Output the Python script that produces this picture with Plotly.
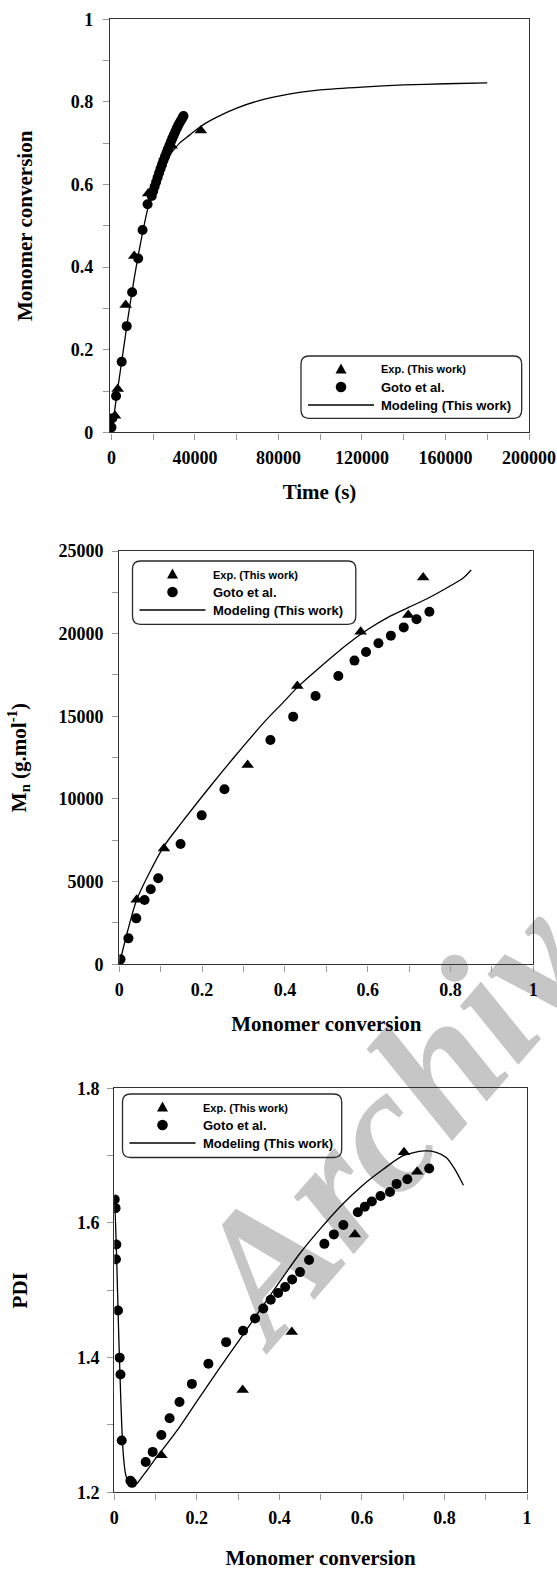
import plotly.graph_objects as go

W, H = 557, 1573

# ---------------- Panel 1: conversion vs time ----------------
p1_exp_time = [1700, 3000, 6800, 10900, 17600, 28800, 42800]
p1_exp_conv = [0.040, 0.105, 0.308, 0.427, 0.578, 0.694, 0.731]

p1_goto_time = [0, 400, 2200, 4900, 7300, 9900, 12800, 14900, 17300,
                19300, 20000, 20700, 21400, 22100, 22800, 23500, 24200, 24900,
                25600, 26300, 27000, 27700, 28400, 29100, 29800, 30500, 31200,
                31900, 32600, 33300, 34000, 34500]
p1_goto_conv = [0.012, 0.034, 0.088, 0.171, 0.257, 0.339, 0.421, 0.490, 0.552,
                0.572, 0.584, 0.595, 0.606, 0.617, 0.628, 0.638, 0.648, 0.658,
                0.667, 0.676, 0.685, 0.694, 0.703, 0.711, 0.719, 0.727, 0.735,
                0.742, 0.749, 0.755, 0.761, 0.766]

p1_model_time = [0, 2000, 4000, 6000, 8000, 10000, 12000, 14000, 16000, 18000,
                 20000, 22000, 24000, 26000, 28000, 30000, 33000, 36000, 40000,
                 45000, 50000, 60000, 70000, 80000, 90000, 100000, 120000,
                 140000, 160000, 180000]
p1_model_conv = [0.0, 0.07, 0.14, 0.21, 0.28, 0.345, 0.405, 0.46, 0.51, 0.555,
                 0.59, 0.618, 0.64, 0.658, 0.672, 0.685, 0.702, 0.714, 0.73,
                 0.748, 0.762, 0.785, 0.802, 0.814, 0.823, 0.829, 0.836,
                 0.841, 0.844, 0.846]

# ---------------- Panel 2: Mn vs conversion ----------------
p2_exp_x = [0.042, 0.108, 0.310, 0.430, 0.583, 0.698, 0.734]
p2_exp_mn = [3900, 7000, 12050, 16830, 20120, 21130, 23400]

p2_goto_x = [0.003, 0.022, 0.041, 0.061, 0.076, 0.094, 0.148, 0.199, 0.254,
             0.365, 0.420, 0.474, 0.529, 0.568, 0.596, 0.626, 0.656, 0.687,
             0.718, 0.749]
p2_goto_mn = [300, 1570, 2780, 3890, 4540, 5200, 7280, 9010, 10590,
              13570, 14980, 16230, 17440, 18370, 18890, 19420, 19880, 20380,
              20870, 21330]

p2_model_x = [0.0, 0.02, 0.042, 0.07, 0.108, 0.15, 0.2, 0.25, 0.3, 0.35, 0.4,
              0.43, 0.5, 0.55, 0.6, 0.65, 0.7, 0.75, 0.8, 0.83, 0.85]
p2_model_mn = [0, 2000, 3900, 5400, 7150, 8550, 10150, 11700, 13200, 14650,
               15950, 16750, 18300, 19350, 20250, 21000, 21600, 22200, 22900,
               23350, 23850]

# ---------------- Panel 3: PDI vs conversion ----------------
p3_exp_x = [0.114, 0.311, 0.430, 0.583, 0.702, 0.734]
p3_exp_pdi = [1.255, 1.352, 1.438, 1.583, 1.705, 1.676]

p3_goto_x = [0.001, 0.003, 0.005, 0.004, 0.009, 0.013, 0.015, 0.018, 0.039,
             0.043, 0.076, 0.093, 0.114, 0.134, 0.158, 0.188, 0.228, 0.271,
             0.312, 0.341, 0.361, 0.379, 0.397, 0.414, 0.431, 0.450, 0.472,
             0.509, 0.532, 0.555, 0.590, 0.607, 0.624, 0.645, 0.668, 0.684,
             0.710, 0.763]
p3_goto_pdi = [1.635, 1.622, 1.568, 1.546, 1.470, 1.400, 1.375, 1.277, 1.217,
               1.214, 1.245, 1.260, 1.285, 1.310, 1.334, 1.361, 1.391, 1.423,
               1.440, 1.458, 1.473, 1.486, 1.496, 1.505, 1.516, 1.527, 1.545,
               1.569, 1.583, 1.597, 1.616, 1.624, 1.632, 1.640, 1.646, 1.658,
               1.665, 1.681]

p3_model_x = [0.0, 0.003, 0.006, 0.010, 0.014, 0.018, 0.022, 0.027, 0.035,
              0.045, 0.055, 0.07, 0.1, 0.15, 0.2, 0.25, 0.305, 0.35, 0.4,
              0.45, 0.5, 0.55, 0.6, 0.65, 0.7, 0.75, 0.78, 0.805, 0.825, 0.846]
p3_model_pdi = [1.64, 1.60, 1.54, 1.45, 1.37, 1.30, 1.255, 1.228, 1.213,
                1.209, 1.213, 1.225, 1.25, 1.29, 1.335, 1.38, 1.428, 1.468,
                1.512, 1.555, 1.592, 1.626, 1.655, 1.679, 1.700, 1.707, 1.705,
                1.697, 1.68, 1.656]

legend_labels = ["Exp. (This work)", "Goto et al.", "Modeling (This work)"]
x_title_time = "Time (s)"
x_title_conv = "Monomer conversion"
y_titles = ["Monomer conversion", "M<sub>n</sub> (g.mol<sup>-1</sup>)", "PDI"]

# ---------------- helpers ----------------
def px(x):
    return x / W

def py(y):
    return 1 - y / H

BLACK = "black"
AX_COL = "#333333"
TICK_COL = "#9a9a9a"
SERIF = "Liberation Serif"
SANS = "Liberation Sans"

fig = go.Figure()

panels = [
    (p1_exp_time, p1_exp_conv, p1_goto_time, p1_goto_conv, p1_model_time, p1_model_conv, "x", "y"),
    (p2_exp_x, p2_exp_mn, p2_goto_x, p2_goto_mn, p2_model_x, p2_model_mn, "x2", "y2"),
    (p3_exp_x, p3_exp_pdi, p3_goto_x, p3_goto_pdi, p3_model_x, p3_model_pdi, "x3", "y3"),
]
for ex, ey, gx, gy, mx, my, xa, ya in panels:
    fig.add_trace(go.Scatter(x=mx, y=my, mode="lines", xaxis=xa, yaxis=ya,
                             line=dict(color=BLACK, width=1.3, shape="spline", smoothing=0.8),
                             showlegend=False, name=legend_labels[2]))
    fig.add_trace(go.Scatter(x=gx, y=gy, mode="markers", xaxis=xa, yaxis=ya,
                             marker=dict(symbol="circle", size=10, color=BLACK),
                             showlegend=False, name=legend_labels[1]))
    fig.add_trace(go.Scatter(x=ex, y=ey, mode="markers", xaxis=xa, yaxis=ya,
                             marker=dict(symbol="triangle-up", size=11, color=BLACK),
                             showlegend=False, name=legend_labels[0]))

tickfont = dict(family=SERIF, size=18, color=BLACK, weight="bold")
titlefont = dict(family=SERIF, size=21, color=BLACK, weight="bold")

def axis(domain, rng, dtick, minor_dtick, anchor, title, standoff, lbl_standoff, fmt=None):
    d = dict(domain=domain, range=rng, dtick=dtick, tick0=0, anchor=anchor,
             automargin=False,
             showline=True, linecolor=AX_COL, linewidth=1.4, mirror=True,
             ticks="outside", ticklen=6, tickwidth=1, tickcolor=TICK_COL,
             minor=dict(ticks="outside", ticklen=6, tickwidth=1, tickcolor=TICK_COL,
                        dtick=minor_dtick, tick0=0),
             showgrid=False, zeroline=False, tickfont=tickfont,
             ticklabelstandoff=lbl_standoff,
             title=dict(text=title, font=titlefont, standoff=standoff))
    if fmt:
        d["tickformat"] = fmt
    return d

# panel pixel boxes (left, right, top, bottom)
B1 = (110, 529, 19.3, 432.3)
B2 = (119.3, 533.3, 551, 964.3)
B3 = (114.3, 527, 1088.3, 1492.3)

def dom_x(b):
    return [px(b[0]), px(b[1])]

def dom_y(b):
    return [py(b[3]), py(b[2])]

fig.update_layout(
    xaxis=axis(dom_x(B1), [-700, 200000], 40000, 20000, "y", x_title_time, 17, 3, "d"),
    yaxis=axis(dom_y(B1), [0, 1], 0.2, 0.1, "x", y_titles[0], 32, 6),
    xaxis2=axis(dom_x(B2), [0, 1], 0.2, 0.1, "y2", x_title_conv, 17, 3),
    yaxis2=axis(dom_y(B2), [0, 25000], 5000, 2500, "x2", y_titles[1], 26, 5, "d"),
    xaxis3=axis(dom_x(B3), [0, 1], 0.2, 0.1, "y3", x_title_conv, 23, 3),
    yaxis3=axis(dom_y(B3), [1.2, 1.8], 0.2, 0.1, "x3", y_titles[2], 43, 4),
)

# ---------------- legends (rounded boxes, symbols, texts) ----------------
shapes = []
annotations = []

def rounded_box(x0, y0, x1, y1, r=8):
    X0, X1 = px(x0), px(x1)
    Y0, Y1 = py(y0), py(y1)
    rx, ry = r / W, r / H
    path = (f"M{X0+rx},{Y0} L{X1-rx},{Y0} Q{X1},{Y0} {X1},{Y0-ry} "
            f"L{X1},{Y1+ry} Q{X1},{Y1} {X1-rx},{Y1} L{X0+rx},{Y1} "
            f"Q{X0},{Y1} {X0},{Y1+ry} L{X0},{Y0-ry} Q{X0},{Y0} {X0+rx},{Y0} Z")
    return dict(type="path", xref="paper", yref="paper", path=path,
                line=dict(color="#2a2a2a", width=1.3), fillcolor="rgba(0,0,0,0)")

def legend(bx0, by0, bx1, by1):
    shapes.append(rounded_box(bx0, by0, bx1, by1))
    rows = [by0 + 13.5, by0 + 31, by0 + 49]
    cx = bx0 + 40
    tw, th = 5.5, 5.0
    tpath = (f"M{px(cx-tw)},{py(rows[0]+th*0.8)} L{px(cx+tw)},{py(rows[0]+th*0.8)} "
             f"L{px(cx)},{py(rows[0]-th*1.2)} Z")
    shapes.append(dict(type="path", xref="paper", yref="paper", path=tpath,
                       fillcolor=BLACK, line=dict(width=0)))
    r = 5.3
    shapes.append(dict(type="circle", xref="paper", yref="paper",
                       x0=px(cx - r), x1=px(cx + r), y0=py(rows[1] + r), y1=py(rows[1] - r),
                       fillcolor=BLACK, line=dict(width=0)))
    shapes.append(dict(type="line", xref="paper", yref="paper",
                       x0=px(bx0 + 7), x1=px(bx0 + 73), y0=py(rows[2]), y1=py(rows[2]),
                       line=dict(color=BLACK, width=1.3)))
    sizes = [11, 13, 13]
    for txt, yy, s in zip(legend_labels, rows, sizes):
        annotations.append(dict(text=txt, xref="paper", yref="paper", x=px(bx0 + 78), y=py(yy),
                                xanchor="left", yanchor="middle", showarrow=False,
                                font=dict(family=SANS, size=s, color=BLACK, weight="bold")))

legend(301, 356, 521.7, 418.3)
legend(132.5, 561, 355.8, 624.3)
legend(122.5, 1094, 341.7, 1157.5)

# ---------------- watermark ----------------
cxw, cyw = 402, 1076
shapes.insert(0, dict(type="line", xref="paper", yref="paper",
                      x0=px(cxw - 30), y0=py(cyw + 35), x1=px(cxw + 30), y1=py(cyw - 35),
                      line=dict(color="rgba(0,0,0,0)", width=1), layer="below",
                      label=dict(text="Archive", textangle=-49, textposition="middle",
                                 xanchor="center", yanchor="middle",
                                 font=dict(family=SERIF, size=180, color="#c6c6c6",
                                           weight="bold", style="italic"))))

fig.update_layout(
    width=W, height=H,
    margin=dict(l=0, r=0, t=0, b=0, autoexpand=False),
    paper_bgcolor="white",
    plot_bgcolor="rgba(0,0,0,0)",
    showlegend=False,
    shapes=shapes,
    annotations=annotations,
)

fig.write_html("out.html", config={"displayModeBar": False},
               post_script="document.body.style.margin='0px';")
